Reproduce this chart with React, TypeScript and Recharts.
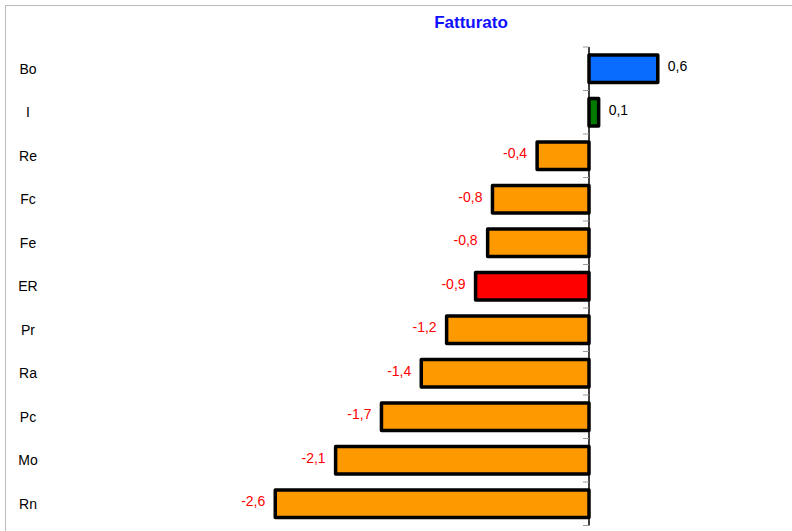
import { Bar, BarChart, Cell, LabelList, ReferenceLine, XAxis, YAxis } from "recharts";

const categories = ["Bo", "I", "Re", "Fc", "Fe", "ER", "Pr", "Ra", "Pc", "Mo", "Rn"];
const values = [0.57, 0.08, -0.43, -0.8, -0.84, -0.94, -1.18, -1.39, -1.72, -2.1, -2.6];
const barColors = ["#0A6CFF", "#007A00", "#FF9900", "#FF9900", "#FF9900", "#FF0000", "#FF9900", "#FF9900", "#FF9900", "#FF9900", "#FF9900"];

const data = categories.map((name, i) => ({ name, value: values[i] }));

const font = "Arial, 'Liberation Sans', sans-serif";
const band = 478.5 / categories.length;
const zeroX = 589;

const fmt = (v: number) => v.toFixed(1).replace(".", ",");

function CategoryTick(props: any) {
  const { y, payload, index } = props;
  const last = index === categories.length - 1;
  return (
    <g>
      <text x={28} y={y} textAnchor='middle' dominantBaseline='central' fontSize={14} fill='#000' fontFamily={font}>
        {payload.value}
      </text>
      <line x1={zeroX - 6} x2={zeroX} y1={y - band / 2} y2={y - band / 2} stroke='#999' />
      {last && <line x1={zeroX - 6} x2={zeroX} y1={y + band / 2} y2={y + band / 2} stroke='#999' />}
    </g>
  );
}

function ValueLabel(props: any) {
  const { x, y, width, height, value } = props;
  const left = Math.min(x, x + width);
  const right = Math.max(x, x + width);
  const cy = y + height / 2 - 2.5;
  const pos = value >= 0;
  return (
    <text
      x={pos ? right + 10 : left - 10}
      y={cy}
      textAnchor={pos ? "start" : "end"}
      dominantBaseline='central'
      fontSize={14}
      fill={pos ? "#000" : "#FF0000"}
      fontFamily={font}
    >
      {fmt(value)}
    </text>
  );
}

export default function App() {
  return (
    <div style={{ position: "absolute", left: 0, top: 0, width: 792, height: 531, overflow: "hidden", background: "#fff" }}>
      <div style={{ position: "absolute", left: 5, top: 5, width: 820, height: 560, border: "1px solid #bbb" }} />
      <div
        style={{
          position: "absolute",
          left: 371,
          width: 200,
          top: 13,
          lineHeight: "20px",
          textAlign: "center",
          fontFamily: font,
          fontWeight: "bold",
          fontSize: 17,
          color: "#1010FF",
        }}
      >
        Fatturato
      </div>
      <div style={{ position: "absolute", left: 0, top: 0 }}>
        <BarChart layout='vertical' width={792} height={531} data={data} margin={{ top: 47, right: 22, left: 0, bottom: 5.5 }}>
          <XAxis type='number' domain={[-3, 1.5]} hide />
          <YAxis type='category' dataKey='name' width={227} axisLine={false} tickLine={false} tick={<CategoryTick />} interval={0} />
          <ReferenceLine x={0} stroke='#000' strokeWidth={1.5} />
          <Bar dataKey='value' barSize={27.5} stroke='#000' strokeWidth={3.5} strokeLinejoin='round' isAnimationActive={false}>
            {data.map((d, i) => (
              <Cell key={d.name} fill={barColors[i]} />
            ))}
            <LabelList dataKey='value' content={<ValueLabel />} />
          </Bar>
        </BarChart>
      </div>
    </div>
  );
}
